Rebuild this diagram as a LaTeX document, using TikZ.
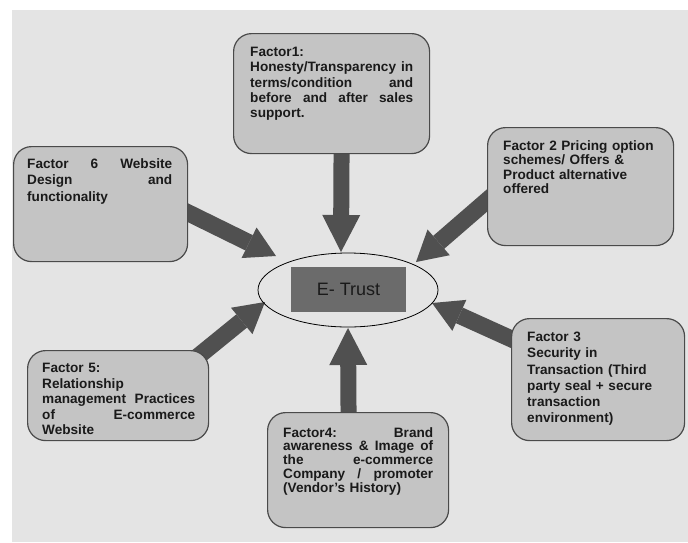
\documentclass[tikz,border=0pt]{standalone}
\usepackage{fontspec}
\setmainfont{Liberation Sans}
\usetikzlibrary{arrows.meta,shapes.geometric,calc}
\pgfdeclarelayer{bg}
\pgfsetlayers{bg,main}
\definecolor{bggray}{HTML}{E4E4E4}
\definecolor{boxgray}{HTML}{C4C4C4}
\definecolor{boxline}{HTML}{4A4A4A}
\definecolor{arrowgray}{HTML}{505050}
\definecolor{trustfill}{HTML}{6B6B6B}
\definecolor{txt}{HTML}{1A1A1A}
\setlength{\parindent}{0pt}
\newcommand{\J}[1]{\makebox[\hsize][s]{\spaceskip=0.28em plus 1fil\relax\xspaceskip=0.28em plus 1fil\relax #1}}
\begin{document}
\begin{tikzpicture}[x=1pt,y=-1pt,
  fbox/.style={draw=boxline, fill=boxgray, rounded corners=18pt, line width=1.2pt, inner sep=0pt, anchor=north west},
  ftext/.style={anchor=north west, inner sep=0pt, text=txt, align=left},
  bigarrow/.style={draw=arrowgray, line width=16pt, -{Triangle[length=37pt,width=38pt,line width=0pt]}},
  diagarrow/.style={draw=arrowgray, line width=17pt, -{Triangle[length=30pt,width=34pt,line width=0pt]}}]
\useasboundingbox (0,0) rectangle (688,542);
\begin{pgfonlayer}{bg}
\fill[bggray] (12,10) rectangle (688,542);
\end{pgfonlayer}

% boxes
\node[fbox, minimum width=196pt, minimum height=120pt] (f1) at (233,33) {};
\node[fbox, minimum width=186pt, minimum height=118pt] (f2) at (487,127) {};
\node[fbox, minimum width=174pt, minimum height=115pt] (f6) at (13,146) {};
\node[fbox, minimum width=181pt, minimum height=90pt] (f5) at (27,350) {};
\node[fbox, minimum width=173pt, minimum height=122pt] (f3) at (511,318) {};
\node[fbox, minimum width=181pt, minimum height=115pt] (f4) at (267,412) {};

% texts
\node[ftext, text width=163pt, font={\fontsize{13.6}{15.3}\selectfont\bfseries}] (f1t) at (250,47)
  {Factor1:\\ \J{Honesty/Transparency in}\\ \J{terms/condition and}\\ \J{before and after sales}\\ support.};
\node[ftext, text width=160pt, font={\fontsize{13.6}{14.6}\selectfont\bfseries}] (f2t) at (503,140)
  {Factor 2 Pricing option\\ schemes/ Offers \&\\ Product alternative\\ offered};
\node[ftext, text width=145pt, font={\fontsize{13.6}{16.5}\selectfont\bfseries}] (f6t) at (27,158)
  {\J{Factor 6 Website}\\ \J{Design and}\\ functionality};
\node[ftext, text width=153pt, font={\fontsize{13.6}{15.6}\selectfont\bfseries}] (f5t) at (42,363)
  {Factor 5:\\ Relationship\\ \J{management Practices}\\ \J{of E-commerce}\\ Website};
\node[ftext, text width=150pt, font={\fontsize{13.6}{16.2}\selectfont\bfseries}] (f3t) at (527,332)
  {Factor 3\\ Security in\\ Transaction (Third\\ party seal + secure\\ transaction\\ environment)};
\node[ftext, text width=150pt, font={\fontsize{13.6}{13.8}\selectfont\bfseries}] (f4t) at (283,427)
  {\J{Factor4: Brand}\\ \J{awareness \& Image of}\\ \J{the e-commerce}\\ \J{Company / promoter}\\ (Vendor's History)};

% centre
\node[ellipse, draw=black, line width=0.8pt, minimum width=180pt, minimum height=74pt, inner sep=0pt] (et) at (348,290) {};
\node[fill=trustfill, minimum width=115pt, minimum height=45pt, inner sep=0pt, text=txt,
  font={\fontsize{18}{20}\selectfont}] (trust) at (348.5,289.5) {E- Trust};

% arrow tips
\coordinate (t1) at (341,252);
\coordinate (t2) at (416,262);
\coordinate (t3) at (432,303);
\coordinate (t4) at (348,328);
\coordinate (t5) at (265,302);
\coordinate (t6) at (276,256);

\begin{pgfonlayer}{bg}
\draw[bigarrow] ([xshift=10pt,yshift=10pt]f1.south) -- (t1);
\draw[bigarrow] ([xshift=-9.5pt,yshift=-10pt]f4.north) -- (t4);
\draw[diagarrow] ([xshift=-27pt,yshift=4.5pt]f6.east) -- (t6);
\draw[diagarrow] ([xshift=23pt,yshift=6pt]f2.west) -- (t2);
\draw[diagarrow] ([xshift=24pt,yshift=30pt]f3.west) -- (t3);
\draw[diagarrow] ([xshift=-18pt,yshift=-12pt]f5.north east) -- (t5);
\end{pgfonlayer}
\end{tikzpicture}
\end{document}
